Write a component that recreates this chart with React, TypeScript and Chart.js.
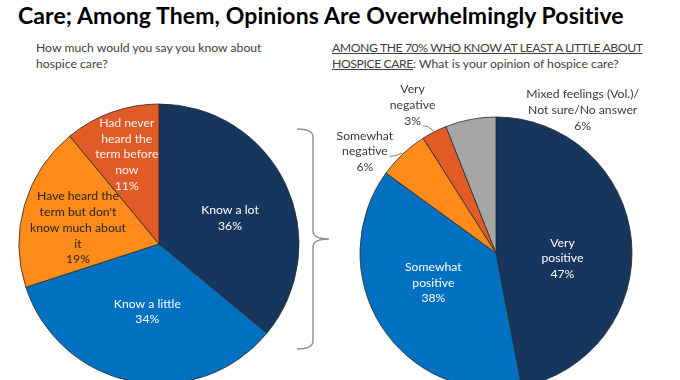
import React, { useEffect, useRef } from "react";
import { Chart, registerables } from "chart.js";

Chart.register(...registerables);

// ---------- DATA ----------
const knowCategories = [
  "Know a lot",
  "Know a little",
  "Have heard the term but don't know much about it",
  "Had never heard the term before now",
];
const knowValues = [36, 34, 19, 11];
const knowLabelLines = [
  ["Know a lot"],
  ["Know a little"],
  ["Have heard the", "term but don't", "know much about", "it"],
  ["Had never", "heard the", "term before", "now"],
];

const opinionCategories = [
  "Very positive",
  "Somewhat positive",
  "Somewhat negative",
  "Very negative",
  "Mixed feelings (Vol.)/Not sure/No answer",
];
const opinionValues = [47, 38, 6, 3, 6];
const opinionLabelLines = [
  ["Very", "positive"],
  ["Somewhat", "positive"],
  ["Somewhat", "negative"],
  ["Very", "negative"],
  ["Mixed feelings (Vol.)/", "Not sure/No answer"],
];

// ---------- STYLE ----------
const FONT = "Lato, 'Open Sans', sans-serif";
const knowColors = ["#17365D", "#0070C0", "#FF8B1A", "#E15B26"];
const opinionColors = ["#17365D", "#0070C0", "#FF8B1A", "#E15B26", "#A6A6A6"];
const knowTextColors = ["#FFFFFF", "#FFFFFF", "#262626", "#F4F4F4"];
const opinionTextColors = ["#FFFFFF", "#FFFFFF", "#3A3A3A", "#3A3A3A", "#3A3A3A"];

// label placement: angle offset (deg, clockwise) from slice middle, radial fraction, leader line
const knowPlacement = [
  { dAngle: 5, r: 0.54, leader: false },
  { dAngle: -1, r: 0.49, leader: false },
  { dAngle: -5, r: 0.59, leader: false },
  { dAngle: 0, r: 0.68, leader: false },
];
const opinionPlacement = [
  { dAngle: 10, r: 0.49, leader: false },
  { dAngle: 7, r: 0.51, leader: false },
  { dAngle: -9, r: 1.22, leader: true },
  { dAngle: -2.4, r: 1.25, leader: true },
  { dAngle: 42, r: 1.23, leader: false },
];

const LINE_H = 15.7;
const LABEL_FONT = `12.2px ${FONT}`;

function makeLabelPlugin(
  lines: string[][],
  values: number[],
  placement: { dAngle: number; r: number; leader: boolean }[],
  colors: string[]
) {
  return {
    id: "sliceLabels",
    afterDatasetsDraw(chart: any) {
      const meta = chart.getDatasetMeta(0);
      const ctx = chart.ctx as CanvasRenderingContext2D;
      ctx.save();
      ctx.font = LABEL_FONT;
      ctx.textAlign = "center";
      ctx.textBaseline = "middle";
      meta.data.forEach((arc: any, i: number) => {
        const { x, y, startAngle, endAngle, outerRadius } = arc.getProps(
          ["x", "y", "startAngle", "endAngle", "outerRadius"],
          true
        );
        const midA = (startAngle + endAngle) / 2;
        const a = midA + (placement[i].dAngle * Math.PI) / 180;
        const rr = outerRadius * placement[i].r;
        const cx = x + Math.cos(a) * rr;
        const cy = y + Math.sin(a) * rr;
        const all = [...lines[i], `${values[i]}%`];
        const n = all.length;
        const ys = all.map((_, k) => cy + (k - (n - 1) / 2) * LINE_H);
        if (placement[i].leader) {
          const ex = x + Math.cos(midA) * (outerRadius + 1);
          const ey = y + Math.sin(midA) * (outerRadius + 1);
          let best = 0;
          ys.forEach((yy, k) => {
            if (Math.abs(yy - ey) < Math.abs(ys[best] - ey)) best = k;
          });
          const w = ctx.measureText(all[best]).width;
          const sx = cx + w / 2 + 2;
          const sy = ys[best] + 5;
          ctx.strokeStyle = "#7F7F7F";
          ctx.lineWidth = 1;
          ctx.beginPath();
          ctx.moveTo(sx, sy);
          ctx.quadraticCurveTo((sx + ex) / 2, sy, ex, ey);
          ctx.stroke();
        }
        ctx.fillStyle = colors[i];
        all.forEach((t, k) => ctx.fillText(t, cx, ys[k]));
      });
      ctx.restore();
    },
  };
}

function PieChart(props: {
  labels: string[];
  values: number[];
  colors: string[];
  lines: string[][];
  placement: { dAngle: number; r: number; leader: boolean }[];
  textColors: string[];
  radius: number;
  width: number;
  height: number;
  left: number;
  top: number;
}) {
  const ref = useRef<HTMLCanvasElement | null>(null);
  useEffect(() => {
    if (!ref.current) return;
    const chart = new Chart(ref.current, {
      type: "pie",
      data: {
        labels: props.labels,
        datasets: [
          {
            data: props.values,
            backgroundColor: props.colors,
            borderColor: "#2B2B2B",
            borderWidth: 0.8,
          },
        ],
      },
      options: {
        responsive: false,
        animation: false,
        radius: props.radius,
        layout: { padding: 0 },
        plugins: {
          legend: { display: false },
          tooltip: { enabled: false },
        },
      } as any,
      plugins: [makeLabelPlugin(props.lines, props.values, props.placement, props.textColors)],
    });
    return () => chart.destroy();
  }, []);
  return (
    <canvas
      ref={ref}
      width={props.width}
      height={props.height}
      style={{
        position: "absolute",
        left: props.left,
        top: props.top,
        width: props.width,
        height: props.height,
      }}
    />
  );
}

export default function App() {
  const sub: React.CSSProperties = {
    position: "absolute",
    fontFamily: FONT,
    fontSize: 12.2,
    lineHeight: "16px",
    color: "#404040",
    whiteSpace: "nowrap",
  };
  const caps: React.CSSProperties = { textDecoration: "underline", letterSpacing: -0.4 };
  return (
    <div
      style={{
        position: "absolute",
        left: 0,
        top: 0,
        width: 680,
        height: 380,
        overflow: "hidden",
        background: "#FFFFFF",
      }}
    >
      <div
        style={{
          position: "absolute",
          left: 18,
          top: 1,
          fontFamily: FONT,
          fontWeight: 700,
          fontSize: 23,
          letterSpacing: 0.1,
          color: "#000000",
          whiteSpace: "nowrap",
        }}
      >
        Care; Among Them, Opinions Are Overwhelmingly Positive
      </div>
      <div style={{ ...sub, left: 36, top: 40 }}>
        How much would you say you know about
        <br />
        hospice care?
      </div>
      <div style={{ ...sub, left: 332, top: 40 }}>
        <span style={caps}>AMONG THE 70% WHO KNOW AT LEAST A LITTLE ABOUT</span>
        <br />
        <span style={caps}>HOSPICE CARE</span>: What is your opinion of hospice care?
      </div>
      <PieChart
        labels={knowCategories}
        values={knowValues}
        colors={knowColors}
        lines={knowLabelLines}
        placement={knowPlacement}
        textColors={knowTextColors}
        radius={140}
        left={0}
        top={84}
        width={318}
        height={320}
      />
      <PieChart
        labels={opinionCategories}
        values={opinionValues}
        colors={opinionColors}
        lines={opinionLabelLines}
        placement={opinionPlacement}
        textColors={opinionTextColors}
        radius={136}
        left={320}
        top={70}
        width={352}
        height={366}
      />
      <svg
        width={680}
        height={380}
        style={{ position: "absolute", left: 0, top: 0, pointerEvents: "none" }}
      >
        <path
          d="M297,129 Q313,129 313,137 L313,231 Q313,239 329,239 Q313,239 313,247 L313,341 Q313,349 297,349"
          fill="none"
          stroke="#8C8C8C"
          strokeWidth={1.4}
        />
      </svg>
    </div>
  );
}
